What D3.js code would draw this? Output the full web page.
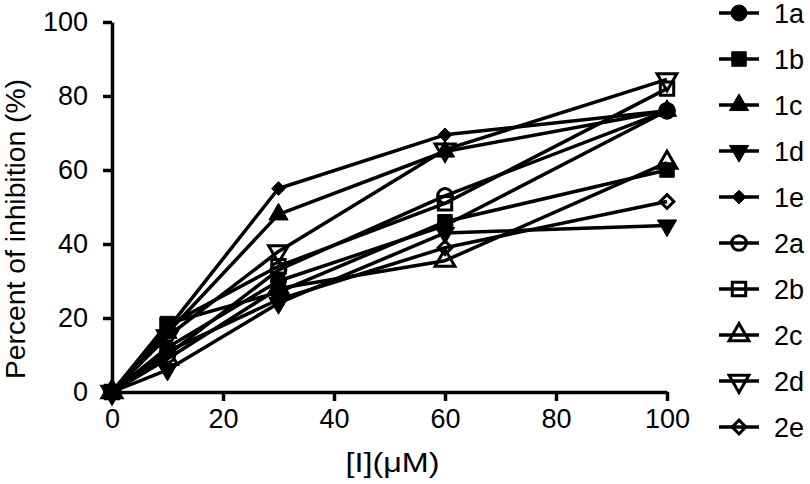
<!DOCTYPE html>
<html>
<head>
<meta charset="utf-8">
<script src="https://cdn.jsdelivr.net/npm/d3@7"></script>
<style>
body { margin: 0; background: #fff; }
text { font-family: "Liberation Sans", Arial, sans-serif; fill: #000; }
</style>
</head>
<body>
<div id="chart"></div>
<script>
// concentrations (uM) and % inhibition per compound
const doses = [0, 10, 30, 60, 100];
const names = ["1a", "1b", "1c", "1d", "1e", "2a", "2b", "2c", "2d", "2e"];
const s1a = [0, 12, 30, 45, 76];
const s1b = [0, 18.5, 27, 46, 60];
const s1c = [0, 16, 48, 65, 76];
const s1d = [0, 6, 24, 43, 45];
const s1e = [0, 17, 55, 69.5, 76];
const s2a = [0, 10, 33, 53, 76];
const s2b = [0, 18, 34, 51, 82];
const s2c = [0, 9, 28, 35.5, 62];
const s2d = [0, 15, 38, 65.5, 84.5];
const s2e = [0, 11, 25, 39, 51.5];
const yTicks = [0, 20, 40, 60, 80, 100];
const xTicks = [0, 20, 40, 60, 80, 100];

const allSeries = [s1a, s1b, s1c, s1d, s1e, s2a, s2b, s2c, s2d, s2e];
// marker shape and fill for each compound
const shapes = [d3.symbolCircle, d3.symbolSquare, d3.symbolTriangle, d3.symbolTriangle, d3.symbolDiamond2,
                d3.symbolCircle, d3.symbolSquare, d3.symbolTriangle, d3.symbolTriangle, d3.symbolDiamond2];
const sizes = [200, 210, 160, 160, 120, 170, 180, 170, 170, 120];
const flipped = [false, false, false, true, false, false, false, false, true, false];
const filled = [true, true, true, true, true, false, false, false, false, false];

var margin = {top: 22, right: 143, bottom: 92, left: 112},
    width = 810 - margin.left - margin.right,
    height = 484 - margin.top - margin.bottom;

var svg = d3.select("#chart").append("svg")
    .attr("width", 810)
    .attr("height", 484);

var g = svg.append("g")
    .attr("transform", "translate(" + margin.left + "," + margin.top + ")");

var x = d3.scaleLinear().domain([0, 100]).range([0, width]);
var y = d3.scaleLinear().domain([0, 100]).range([height, 0]);

// axes
var xAxis = g.append("g")
    .attr("transform", "translate(0," + height + ")")
    .call(d3.axisBottom(x).tickValues(xTicks).tickSize(9).tickSizeOuter(0).tickPadding(8));
var yAxis = g.append("g")
    .call(d3.axisLeft(y).tickValues(yTicks).tickSize(9).tickSizeOuter(0).tickPadding(15));

[xAxis, yAxis].forEach(function(a) {
    a.selectAll("path, line").attr("stroke", "#000").attr("stroke-width", 3.5);
    a.selectAll("text").attr("font-size", 27).attr("font-family", "Liberation Sans, Arial, sans-serif").attr("fill", "#000");
});

g.append("text")
    .attr("x", width / 2 + 3)
    .attr("y", height + 80)
    .attr("text-anchor", "middle")
    .attr("font-size", 28)
    .attr("textLength", 94)
    .attr("lengthAdjust", "spacingAndGlyphs")
    .text("[I](\u03bcM)");

g.append("text")
    .attr("transform", "translate(" + (-87) + "," + (height / 2 + 22) + ") rotate(-90)")
    .attr("text-anchor", "middle")
    .attr("font-size", 27)
    .attr("textLength", 300)
    .attr("lengthAdjust", "spacingAndGlyphs")
    .text("Percent of inhibition (%)");

var line = d3.line()
    .x(function(d, i) { return x(doses[i]); })
    .y(function(d) { return y(d); });

function symbolPath(i) {
    return d3.symbol().type(shapes[i]).size(sizes[i])();
}

// open symbols are hollow, so lines show through them
function drawMarker(sel, i) {
    sel.append("path")
        .attr("d", symbolPath(i))
        .attr("transform", flipped[i] ? "rotate(180)" : null)
        .attr("fill", filled[i] ? "#000" : "none")
        .attr("stroke", "#000")
        .attr("stroke-width", filled[i] ? 1 : 3);
}

// lines
allSeries.forEach(function(s, i) {
    g.append("path")
        .datum(s)
        .attr("d", line)
        .attr("fill", "none")
        .attr("stroke", "#000")
        .attr("stroke-width", 3.5)
        .attr("stroke-linejoin", "round");
});

// markers
allSeries.forEach(function(s, i) {
    s.forEach(function(v, j) {
        var m = g.append("g")
            .attr("transform", "translate(" + x(doses[j]) + "," + y(v) + ")");
        drawMarker(m, i);
    });
});

// legend
var legend = svg.append("g").attr("transform", "translate(719,13)");
names.forEach(function(n, i) {
    var row = legend.append("g").attr("transform", "translate(0," + (i * 46) + ")");
    row.append("line")
        .attr("x1", 0).attr("x2", 40)
        .attr("stroke", "#000").attr("stroke-width", 3.5);
    var m = row.append("g").attr("transform", "translate(20,0)");
    drawMarker(m, i);
    row.append("text")
        .attr("x", 55)
        .attr("y", 10)
        .attr("font-size", 27)
        .text(n);
});
</script>
</body>
</html>
